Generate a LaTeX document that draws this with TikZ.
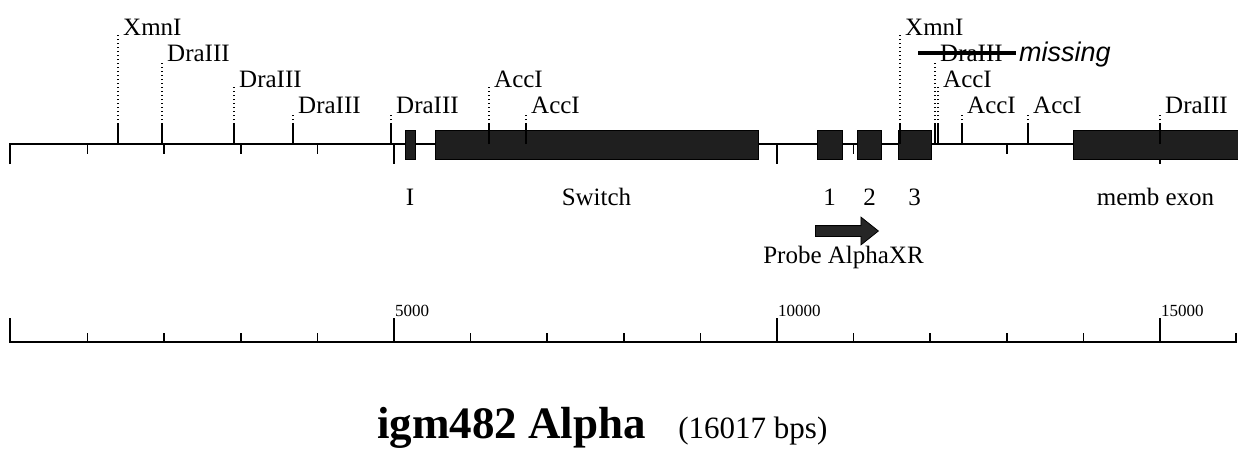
\documentclass[tikz,border=0pt]{standalone}
\usepackage{fontspec}
\setmainfont{Liberation Serif}
\newfontfamily\missfont{Liberation Sans}
\usetikzlibrary{shapes.arrows, positioning}

\tikzset{
  %% ---- map ----
  mapline/.style  = {line width=1.5pt, black},
  maptick/.style  = {line width=1.5pt, black},
  cutmark/.style  = {line width=1.5pt, black},
  cutdots/.style  = {line width=1.4pt, black, dash pattern=on 1.4pt off 2.6pt},
  sitelabel/.style= {anchor=base west, inner sep=0pt,
                     font=\fontsize{25}{30}\selectfont},
  strike/.style   = {line width=4.5pt, black},
  exon/.style     = {rectangle, draw=black, line width=1pt, fill=black!88,
                     inner sep=0pt, minimum height=29pt, minimum width=#1},
  exonlabel/.style= {anchor=base, inner sep=0pt,
                     font=\fontsize{25}{30}\selectfont},
  %% ---- probe ----
  probe/.style    = {single arrow, draw=black, fill=black!85, line width=0.8pt,
                     inner sep=5pt, minimum height=63pt,
                     single arrow head extend=8.5pt, single arrow tip angle=77},
  %% ---- scale ----
  scalenum/.style = {anchor=south west, inner sep=1pt,
                     font=\fontsize{17}{20}\selectfont},
}

\begin{document}
\begin{tikzpicture}[x=1pt, y=-1pt]
  \useasboundingbox[fill=white] (0,0) rectangle (1238,450);

  %% map line with 1 kb ticks
  \draw[mapline] (10,164) -- (10,144) -- (1238,144);
  \foreach \k in {1,...,15} {
    \pgfmathsetmacro{\tx}{11+76.6*\k}
    \pgfmathsetmacro{\tl}{mod(\k,5)==0 ? 20 : 10}
    \draw[maptick] (\tx,144) -- ++(0,\tl);
  }

  %% exons
  \node[exon=10pt] (exI)  at (410,144.5)    {};
  \node[exon=323pt] (sw)  at (596.5,144.5)  {};
  \node[exon=25pt] (ex1)  at (829.5,144.5)  {};
  \node[exon=24pt] (ex2)  at (869.5,144.5)  {};
  \node[exon=33pt] (ex3)  at (914.5,144.5)  {};
  \node[exon=165pt] (memb) at (1155.5,144.5) {};

  \coordinate (labrow) at (0,205);
  \node[exonlabel] (lI)    at (exI  |- labrow) {I};
  \node[exonlabel] (lsw)   at (sw   |- labrow) {Switch};
  \node[exonlabel] (l1)    at (ex1  |- labrow) {1};
  \node[exonlabel] (l2)    at (ex2  |- labrow) {2};
  \node[exonlabel] (l3)    at (ex3  |- labrow) {3};
  \node[exonlabel] (lmemb) at (memb |- labrow) {memb exon};

  %% restriction sites
  \foreach \x/\lev/\enz [count=\i] in {118/1/XmnI, 162/2/DraIII, 234/3/DraIII,
      293/4/DraIII, 391/4/DraIII, 489/3/AccI, 526/4/AccI, 900/1/XmnI,
      935/2/DraIII, 938/3/AccI, 962/4/AccI, 1028/4/AccI, 1160/4/DraIII} {
    \pgfmathsetmacro{\by}{9+26*\lev}
    \coordinate (cut\i) at (\x,144);
    \coordinate (top\i) at (\x,124);
    \node[sitelabel] (site\i) at (\x+5,\by) {\enz};
    \draw[cutmark] (cut\i) -- (top\i);
    \draw[cutdots] (top\i) -- (top\i |- site\i.base);
  }

  %% the DraIII site that is not there
  \draw[strike] ([xshift=-22pt, yshift=8pt]site9.base west)
             -- ([xshift=13pt, yshift=8pt]site9.base east);
  \node[anchor=base west, inner sep=0pt,
        font=\missfont\itshape\fontsize{27}{30}\selectfont]
    (miss) at ([xshift=16pt]site9.base east) {missing};

  %% probe
  \node[probe] (pr) at (843.5,231) {};
  \node[exonlabel, anchor=north, below=9pt of pr] (prlab) {Probe AlphaXR};

  %% scale bar
  \draw[mapline] (10,318) -- (10,342) -- (1236,342) -- (1236,333);
  \foreach \k in {1,...,15} {
    \pgfmathsetmacro{\tx}{11+76.6*\k}
    \pgfmathsetmacro{\tt}{mod(\k,5)==0 ? 318 : 333}
    \draw[maptick] (\tx,342) -- (\tx,\tt);
  }
  \foreach \k in {5,10,15} {
    \pgfmathsetmacro{\tx}{11+76.6*\k}
    \node[scalenum] (num\k) at (\tx,318) {\k000};
  }

  %% title
  \node[anchor=base west, inner sep=0pt, font=\bfseries\fontsize{45}{50}\selectfont]
    (ttl) at (377,438) {igm482 Alpha};
  \node[anchor=base west, inner sep=0pt, font=\fontsize{31}{34}\selectfont]
    (len) at ([xshift=32pt]ttl.base east) {(16017 bps)};

\end{tikzpicture}
\end{document}
